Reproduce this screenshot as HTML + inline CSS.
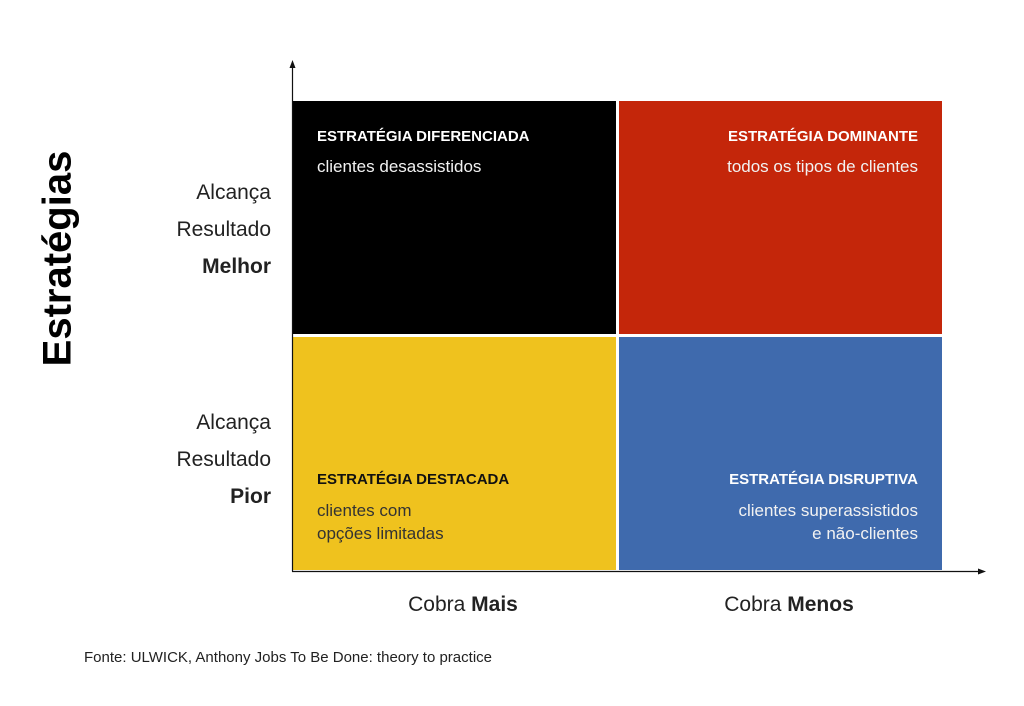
<!DOCTYPE html>
<html><head><meta charset="utf-8"><style>
body{margin:0;width:1024px;height:706px;background:#fff;position:relative;overflow:hidden;font-family:"Liberation Sans Narrow","Liberation Sans",sans-serif;color:#111}
div{position:absolute}
.q{box-sizing:border-box}
.t{font-weight:bold;font-size:15px;color:#fff;white-space:nowrap}
.s{font-size:17px;color:#f2f2f2;line-height:23px;white-space:nowrap}
.lab{font-size:21px;color:#222;text-align:right;width:200px;left:71px;line-height:37px}
</style></head><body>
<div style="left:-62px;top:236px;width:240px;text-align:center;transform:rotate(-90deg);font-weight:bold;font-size:40px;font-family:'Liberation Sans',sans-serif;color:#000">Estratégias</div>
<div class="lab" style="top:174px">Alcança<br>Resultado<br><b>Melhor</b></div>
<div class="lab" style="top:404px">Alcança<br>Resultado<br><b>Pior</b></div>

<div class="q" style="left:293px;top:101px;width:323px;height:233px;background:#000">
 <div class="t" style="left:24px;top:27px">ESTRATÉGIA DIFERENCIADA</div>
 <div class="s" style="left:24px;top:54px">clientes desassistidos</div></div>
<div class="q" style="left:619px;top:101px;width:323px;height:233px;background:#c4260a">
 <div class="t" style="right:24px;top:27px">ESTRATÉGIA DOMINANTE</div>
 <div class="s" style="right:24px;top:54px">todos os tipos de clientes</div></div>
<div class="q" style="left:293px;top:337px;width:323px;height:233px;background:#efc21e">
 <div class="t" style="left:24px;top:134px;color:#111">ESTRATÉGIA DESTACADA</div>
 <div class="s" style="left:24px;top:162px;color:#333">clientes com<br>opções limitadas</div></div>
<div class="q" style="left:619px;top:337px;width:323px;height:233px;background:#3f6aad">
 <div class="t" style="right:24px;top:134px">ESTRATÉGIA DISRUPTIVA</div>
 <div class="s" style="right:24px;top:162px;text-align:right">clientes superassistidos<br>e não-clientes</div></div>

<svg style="position:absolute;left:0;top:0" width="1024" height="706">
 <line x1="292.5" y1="66" x2="292.5" y2="571.5" stroke="#111" stroke-width="1.2"/>
 <polygon points="292.5,60 289.5,68 295.5,68" fill="#111"/>
 <line x1="292" y1="571.5" x2="980" y2="571.5" stroke="#111" stroke-width="1.2"/>
 <polygon points="986,571.5 978,568.5 978,574.5" fill="#111"/>
</svg>
<div style="left:293px;width:340px;text-align:center;top:593px;font-size:21px;color:#222">Cobra <b>Mais</b></div>
<div style="left:619px;width:340px;text-align:center;top:593px;font-size:21px;color:#222">Cobra <b>Menos</b></div>
<div style="left:84px;top:649px;font-size:15px;color:#222">Fonte: ULWICK, Anthony Jobs To Be Done: theory to practice</div>
</body></html>
